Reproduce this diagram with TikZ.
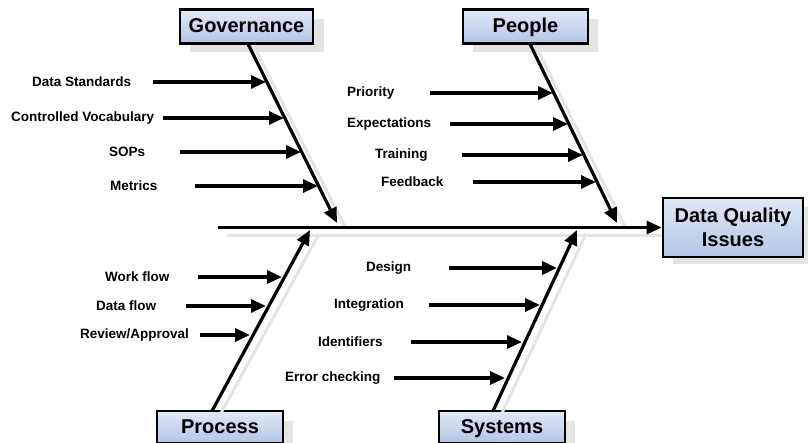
\documentclass[tikz,border=0pt]{standalone}
\usepackage{fontspec}
\setmainfont{Liberation Sans}
\usetikzlibrary{arrows.meta,calc}
\definecolor{shadowgray}{HTML}{E4E4E4}
\definecolor{boxtop}{HTML}{E2E9F6}
\definecolor{boxbot}{HTML}{B3C5E6}
\tikzset{
  titlebox/.style={draw=black, line width=2.8pt, top color=boxtop, bottom color=boxbot,
    font=\fontsize{20}{24}\selectfont\bfseries, align=center, inner sep=0pt},
  onelinebox/.style={titlebox, text height=16pt, text depth=3pt},
  lbl/.style={font=\fontsize{13.5}{16}\selectfont\bfseries, anchor=west, inner sep=0pt},
  bone/.style={line width=3.2pt, -{Triangle[length=15pt,width=13pt]}},
  rib/.style={line width=3.2pt, -{Triangle[length=15pt,width=13pt]}},
  shadowline/.style={line width=3pt, shadowgray}
}
\begin{document}
\begin{tikzpicture}[x=1pt,y=-1pt]
\useasboundingbox (0,0) rectangle (808,443);
% box shadows
\fill[shadowgray] (190,19) rectangle (324,52);
\fill[shadowgray] (473,19) rectangle (598,52);
\fill[shadowgray] (673,207) rectangle (813,264);
\fill[shadowgray] (167,421) rectangle (293,450);
\fill[shadowgray] (449,421) rectangle (575,450);
% boxes
\node[onelinebox, minimum width=133pt, minimum height=34pt] (gov) at (246.5,26.5) {Governance};
\node[onelinebox, minimum width=125pt, minimum height=34pt] (ppl) at (525.5,26.5) {People};
\node[titlebox, minimum width=140pt, minimum height=59pt] (dqi) at (733,227.5) {Data Quality\\Issues};
\node[onelinebox, minimum width=126pt, minimum height=32pt] (proc) at (220,427) {Process};
\node[onelinebox, minimum width=126pt, minimum height=32pt] (sys) at (502,427) {Systems};
% bone coordinates
\coordinate (spinestart) at (218,227.5);
\coordinate (govtop) at (248,44);
\coordinate (govend) at (337,223);
\coordinate (ppltop) at (530,44);
\coordinate (pplend) at (617,223);
\coordinate (procbot) at (212,411);
\coordinate (procend) at (310,230);
\coordinate (sysbot) at (493,411);
\coordinate (sysend) at (577,230);
% shadows of lines
\draw[shadowline] ($(spinestart)+(9,8)$) -- ($(dqi.west)+(0,8)$);
\draw[shadowline] ($(govtop)+(8,6)$) -- ($(govend)+(8,4)$);
\draw[shadowline] ($(ppltop)+(8,6)$) -- ($(pplend)+(8,4)$);
\draw[shadowline] ($(procbot)+(9,2)$) -- ($(procend)+(9,4)$);
\draw[shadowline] ($(sysbot)+(9,2)$) -- ($(sysend)+(9,4)$);
% spine and bones
\draw[bone] (spinestart) -- (dqi.west);
\draw[bone] (govtop) -- (govend);
\draw[bone] (ppltop) -- (pplend);
\draw[bone] (procbot) -- (procend);
\draw[bone] (sysbot) -- (sysend);
% Governance ribs
\node[lbl] (g1) at (32,82) {Data Standards};
\node[lbl] (g2) at (11,118) {Controlled Vocabulary};
\node[lbl] (g3) at (109,152) {SOPs};
\node[lbl] (g4) at (110,186) {Metrics};
\coordinate (g1s) at (153,82);  \coordinate (g1e) at (266,82);
\coordinate (g2s) at (163,118); \coordinate (g2e) at (284,118);
\coordinate (g3s) at (180,152); \coordinate (g3e) at (301,152);
\coordinate (g4s) at (195,186); \coordinate (g4e) at (318,186);
\draw[rib] (g1s) -- (g1e);
\draw[rib] (g2s) -- (g2e);
\draw[rib] (g3s) -- (g3e);
\draw[rib] (g4s) -- (g4e);
% People ribs
\node[lbl] (p1) at (347,93) {Priority};
\node[lbl] (p2) at (347,124) {Expectations};
\node[lbl] (p3) at (375,155) {Training};
\node[lbl] (p4) at (381,182) {Feedback};
\coordinate (p1s) at (430,93);  \coordinate (p1e) at (553,93);
\coordinate (p2s) at (450,124); \coordinate (p2e) at (568,124);
\coordinate (p3s) at (462,155); \coordinate (p3e) at (583,155);
\coordinate (p4s) at (473,182); \coordinate (p4e) at (596,182);
\draw[rib] (p1s) -- (p1e);
\draw[rib] (p2s) -- (p2e);
\draw[rib] (p3s) -- (p3e);
\draw[rib] (p4s) -- (p4e);
% Process ribs
\node[lbl] (r1) at (105,277) {Work flow};
\node[lbl] (r2) at (96,306) {Data flow};
\node[lbl] (r3) at (80,335) {Review/Approval};
\coordinate (r1s) at (198,277); \coordinate (r1e) at (282,277);
\coordinate (r2s) at (186,306); \coordinate (r2e) at (266,306);
\coordinate (r3s) at (200,335); \coordinate (r3e) at (250,335);
\draw[rib] (r1s) -- (r1e);
\draw[rib] (r2s) -- (r2e);
\draw[rib] (r3s) -- (r3e);
% Systems ribs
\node[lbl] (s1) at (366,268) {Design};
\node[lbl] (s2) at (334,305) {Integration};
\node[lbl] (s3) at (318,342) {Identifiers};
\node[lbl] (s4) at (285,378) {Error checking};
\coordinate (s1s) at (449,268); \coordinate (s1e) at (557,268);
\coordinate (s2s) at (429,305); \coordinate (s2e) at (540,305);
\coordinate (s3s) at (411,342); \coordinate (s3e) at (522,342);
\coordinate (s4s) at (394,378); \coordinate (s4e) at (505,378);
\draw[rib] (s1s) -- (s1e);
\draw[rib] (s2s) -- (s2e);
\draw[rib] (s3s) -- (s3e);
\draw[rib] (s4s) -- (s4e);
\end{tikzpicture}
\end{document}
